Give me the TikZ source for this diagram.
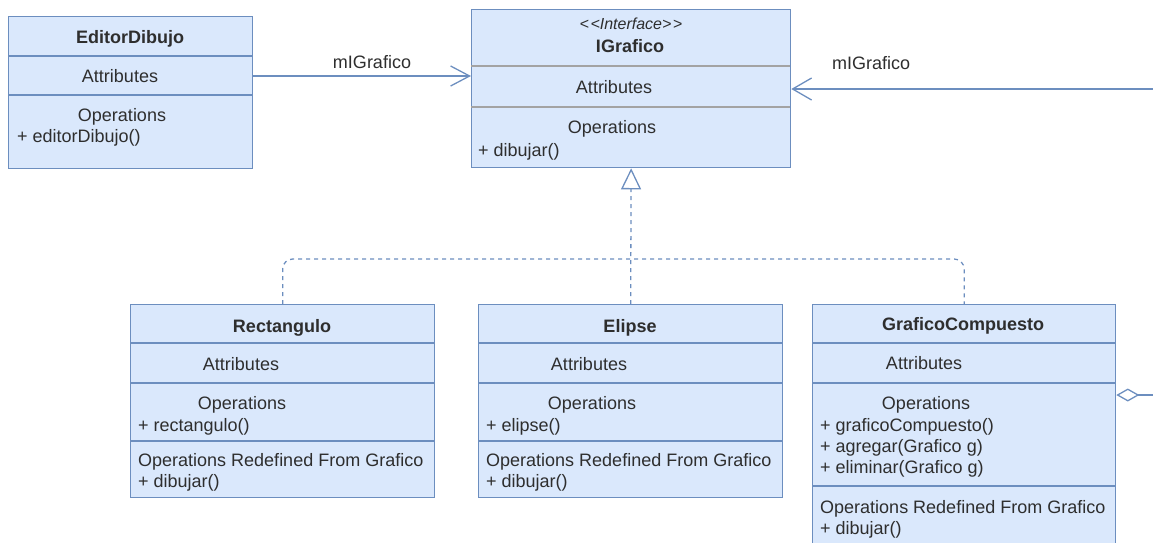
\documentclass[tikz,border=0pt]{standalone}
\usepackage{fontspec}
\setmainfont{Liberation Sans}
\usetikzlibrary{arrows.meta}
\definecolor{umlfill}{HTML}{DAE8FC}
\definecolor{umlline}{HTML}{6C8EBF}
\definecolor{umltext}{HTML}{2E2E2E}
\definecolor{sepgray}{HTML}{A3A3A3}
\begin{document}
\begin{tikzpicture}[x=1pt,y=-1pt,
  cls/.style={draw=umlline, fill=umlfill, line width=1.3pt, inner sep=0pt, anchor=north west},
  sep/.style={draw=umlline, line width=1.3pt},
  sepg/.style={draw=sepgray, line width=1.3pt},
  txt/.style={inner sep=0pt, text=umltext, font=\fontsize{18}{21}\selectfont, anchor=base},
  ltxt/.style={txt, anchor=base west},
  ttl/.style={txt, font=\fontsize{18}{21}\selectfont\bfseries},
  stereo/.style={txt, font=\fontsize{16}{19}\selectfont\itshape},
  assoc/.style={draw=umlline, line width=1.3pt},
  realize/.style={draw=umlline, line width=1.3pt, dash pattern=on 4pt off 4pt},
]
\useasboundingbox (0,0) rectangle (1153,542);
\begin{scope}
\clip (0,0) rectangle (1153,542);

% class boxes
\node[cls, minimum width=244pt, minimum height=152pt] (ed) at (8,16) {};
\node[cls, minimum width=319pt, minimum height=158pt] (igr) at (471,9) {};
\node[cls, minimum width=304pt, minimum height=193pt] (rect) at (130,304) {};
\node[cls, minimum width=304pt, minimum height=193pt] (elip) at (478,304) {};
\node[cls, minimum width=303pt, minimum height=260pt] (gc) at (812,304) {};

% compartment separators
\draw[sep] (8,56) -- (252,56);
\draw[sep] (8,95) -- (252,95);
\draw[sepg] (471,66) -- (790,66);
\draw[sepg] (471,107) -- (790,107);
\draw[sep] (130,343) -- (434,343);
\draw[sep] (130,383) -- (434,383);
\draw[sep] (130,441) -- (434,441);
\draw[sep] (478,343) -- (782,343);
\draw[sep] (478,383) -- (782,383);
\draw[sep] (478,441) -- (782,441);
\draw[sep] (812,343) -- (1115,343);
\draw[sep] (812,383) -- (1115,383);
\draw[sep] (812,486) -- (1115,486);

% EditorDibujo
\node[ttl] (edname) at (130,43) {EditorDibujo};
\node[txt] (edattr) at (120,82) {Attributes};
\node[txt] (edops) at (122,121) {Operations};
\node[ltxt] (edop1) at (17,142) {+ editorDibujo()};

% IGrafico
\node[stereo] (igrst) at (631,29) {{<}\kern1.5pt{<}Interface{>}\kern1.5pt{>}};
\node[ttl] (igrname) at (630,52) {IGrafico};
\node[txt] (igrattr) at (614,93) {Attributes};
\node[txt] (igrops) at (612,133) {Operations};
\node[ltxt] (igrop1) at (478,156) {+ dibujar()};

% Rectangulo
\node[ttl] (rectname) at (282,332) {Rectangulo};
\node[txt] (rectattr) at (241,370) {Attributes};
\node[txt] (rectops) at (242,409) {Operations};
\node[ltxt] (rectop1) at (138,431) {+ rectangulo()};
\node[ltxt] (rectred) at (138,466) {Operations Redefined From Grafico};
\node[ltxt] (rectop2) at (138,487) {+ dibujar()};

% Elipse
\node[ttl] (elipname) at (630,332) {Elipse};
\node[txt] (elipattr) at (589,370) {Attributes};
\node[txt] (elipops) at (592,409) {Operations};
\node[ltxt] (elipop1) at (486,431) {+ elipse()};
\node[ltxt] (elipred) at (486,466) {Operations Redefined From Grafico};
\node[ltxt] (elipop2) at (486,487) {+ dibujar()};

% GraficoCompuesto
\node[ttl] (gcname) at (963,330) {GraficoCompuesto};
\node[txt] (gcattr) at (924,369) {Attributes};
\node[txt] (gcops) at (926,409) {Operations};
\node[ltxt] (gcop1) at (820,431) {+ graficoCompuesto()};
\node[ltxt] (gcop2) at (820,452) {+ agregar(Grafico g)};
\node[ltxt] (gcop3) at (820,473) {+ eliminar(Grafico g)};
\node[ltxt] (gcred) at (820,513) {Operations Redefined From Grafico};
\node[ltxt] (gcop4) at (820,534) {+ dibujar()};

% connector levels and free ends
\coordinate (lvl1) at (0,76);
\coordinate (lvl2) at (0,89);
\coordinate (rin) at (1165,89);
\coordinate (aggy) at (0,395);
\coordinate (aout) at (1165,395);
\coordinate (hub) at (0,259);

% associations
\draw[assoc, -{Straight Barb[length=19pt,width=20pt]}] (ed.east |- lvl1) -- (igr.west |- lvl1);
\node[txt] (lab1) at (372,68) {mIGrafico};
\draw[assoc, -{Straight Barb[length=19pt,width=22pt]}] (rin) -- (igr.east |- lvl2);
\node[txt] (lab2) at (871,69) {mIGrafico};

% realization of the interface
\draw[realize, rounded corners=10pt] (rect.north) |- (gc.north |- hub) -- (gc.north);
\draw[realize, -{Triangle[open, length=21pt, width=20pt]}] (elip.north) -- (igr.south);

% aggregation
\draw[assoc, {Diamond[open, length=23pt, width=13pt]}-] (gc.east |- aggy) -- (aout);
\end{scope}
\end{tikzpicture}
\end{document}
